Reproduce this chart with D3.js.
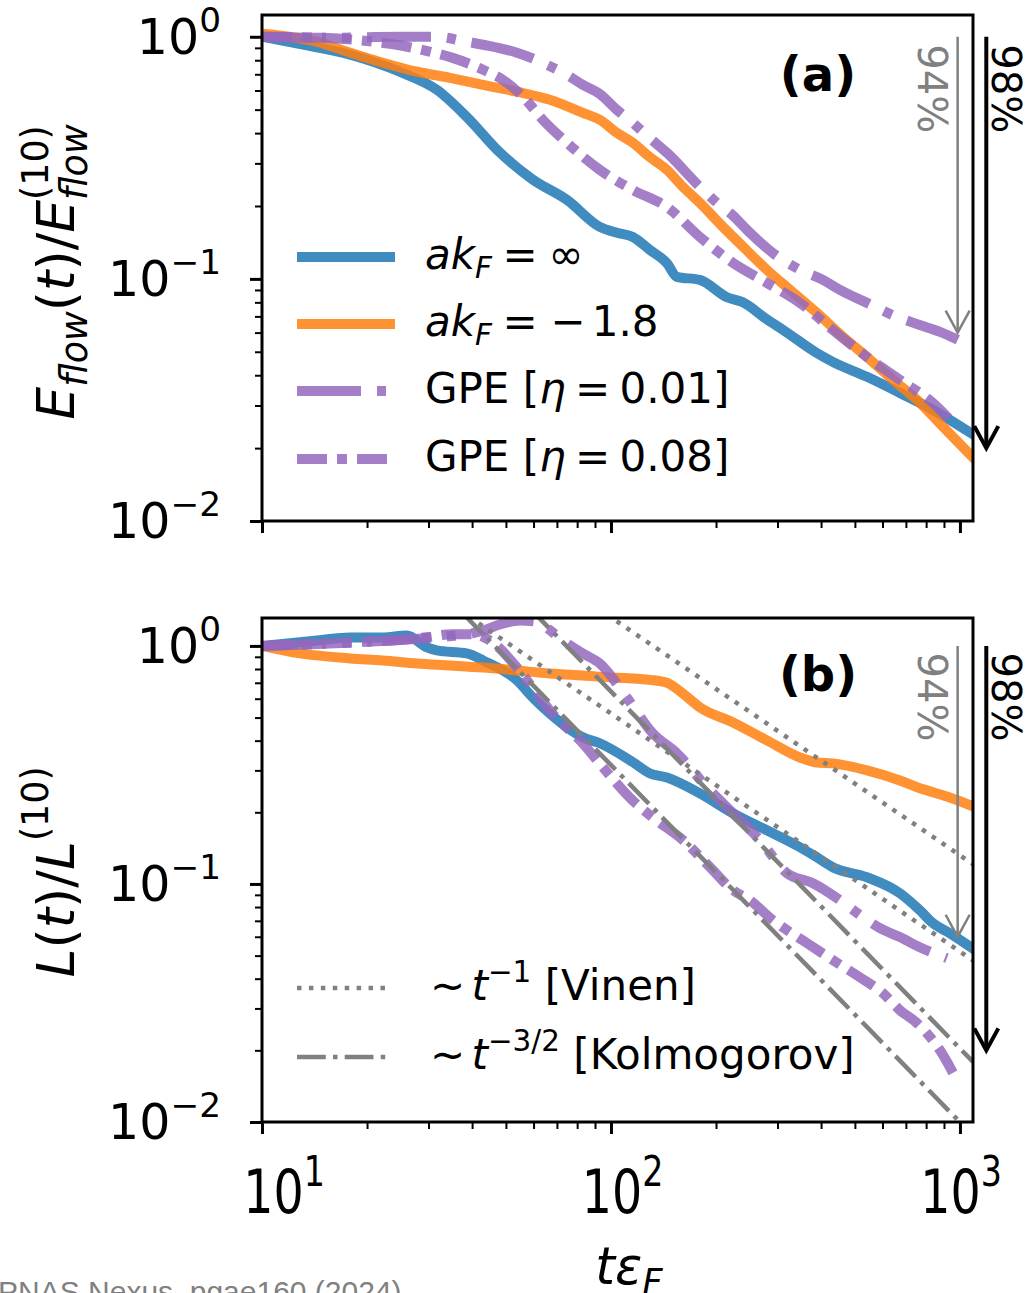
<!DOCTYPE html>
<html>
<head>
<meta charset="utf-8">
<script src="https://cdn.jsdelivr.net/npm/d3@7"></script>
<style>
  body { margin: 0; background: #fff; }
  svg text { font-family: "DejaVu Sans"; white-space: pre; }
</style>
</head>
<body>
<svg id="fig" width="1027" height="1293"></svg>
<script>
// ---------------- data ----------------
// (a) flow energy, normalised at t*eps_F = 10
const tBlueA = [10, 13, 17.9, 24.8, 31.7, 38.6, 48.1, 59.7, 74.8, 92.9, 104, 115.5, 129, 144.7, 154.5, 179.8, 214.9, 238.8, 279.8, 311, 389, 432, 541.5, 673, 837, 1090];
const eBlueA = [1.0, 0.93, 0.843, 0.717, 0.604, 0.467, 0.332, 0.257, 0.212, 0.164, 0.155, 0.149, 0.132, 0.116, 0.102, 0.099, 0.084, 0.080, 0.068, 0.0616, 0.0494, 0.0454, 0.0394, 0.0338, 0.0288, 0.0228];

const tOrangeA = [10, 14.4, 17.9, 22.2, 27.8, 34.6, 43, 53.8, 66.8, 83.1, 92.9, 104, 115.5, 129, 144.7, 160.7, 179.8, 209.4, 238.8, 279.8, 325.9, 389, 462.8, 541.5, 642.3, 753.8, 894, 1090];
const eOrangeA = [1.03, 0.953, 0.859, 0.781, 0.717, 0.677, 0.633, 0.593, 0.549, 0.485, 0.454, 0.401, 0.365, 0.319, 0.282, 0.240, 0.206, 0.164, 0.136, 0.109, 0.0901, 0.0724, 0.0576, 0.0476, 0.0383, 0.0316, 0.0245, 0.0183];

const tGpe1A = [10, 15.4, 24.8, 31.7, 37.4, 43, 53.8, 65.6, 74.8, 83.1, 92.9, 104, 115.5, 129, 144.7, 179.8, 201.4, 222.4, 245.7, 291, 348, 405, 453, 541.5, 659, 767, 877, 986];
const eGpe1A = [1.0, 0.99, 1.0, 1.0, 0.963, 0.927, 0.859, 0.766, 0.696, 0.633, 0.58, 0.499, 0.441, 0.382, 0.332, 0.240, 0.206, 0.184, 0.159, 0.128, 0.109, 0.099, 0.0901, 0.0796, 0.0697, 0.0645, 0.0604, 0.056];

const tGpe8A = [10, 15, 20, 25, 30, 35, 43, 49, 56, 63.8, 74.8, 92.9, 115.5, 144.7, 179.8, 223.7, 279.8, 348, 432, 541.5, 673, 837, 955];
const eGpe8A = [1.0, 0.99, 0.96, 0.92, 0.87, 0.82, 0.731, 0.664, 0.565, 0.454, 0.365, 0.282, 0.233, 0.198, 0.149, 0.1164, 0.0963, 0.0796, 0.0616, 0.0476, 0.0383, 0.0307, 0.0254];

// (b) vortex line length, normalised at t*eps_F = 10
const tBlueB = [10, 14.4, 17.9, 22.2, 26, 29.7, 31.7, 38.6, 43, 53.8, 59.7, 66.8, 83.1, 92.9, 115.5, 129, 144.7, 179.8, 223.9, 279.8, 348, 389, 432, 541.5, 673, 767, 837, 935, 1090];
const lBlueB = [1.0, 1.054, 1.084, 1.084, 1.106, 0.985, 0.957, 0.93, 0.869, 0.716, 0.607, 0.52, 0.413, 0.39, 0.325, 0.292, 0.28, 0.240, 0.198, 0.168, 0.1426, 0.1294, 0.1175, 0.1067, 0.0914, 0.0776, 0.0684, 0.0621, 0.0535];

const tOrangeB = [10, 12.85, 17.9, 22.2, 27.8, 34.6, 43, 53.8, 66.8, 83.1, 104, 115.5, 129, 144.7, 160.7, 179.8, 223.9, 279.8, 348, 389, 432, 541.5, 673, 753.8, 837, 935, 1090];
const lOrangeB = [1.0, 0.93, 0.886, 0.869, 0.844, 0.828, 0.811, 0.788, 0.766, 0.751, 0.735, 0.73, 0.72, 0.70, 0.631, 0.552, 0.477, 0.401, 0.340, 0.324, 0.321, 0.300, 0.272, 0.255, 0.243, 0.231, 0.212];

const tGpe1B = [10, 15, 20, 25, 30, 35, 40, 43, 48, 54.8, 60, 63.8, 72.8, 83.1, 92.9, 111, 131.8, 154.5, 188.3, 223.9, 267.3, 319.4, 379.3, 453, 527.3, 590, 673, 767, 918];
const lGpe1B = [1.0, 1.02, 1.04, 1.06, 1.08, 1.1, 1.13, 1.16, 1.23, 1.28, 1.27, 1.22, 1.054, 0.929, 0.844, 0.607, 0.429, 0.354, 0.255, 0.198, 0.153, 0.111, 0.1007, 0.0855, 0.0725, 0.0652, 0.0598, 0.0542, 0.0488];

const tGpe8B = [10, 15, 20, 25, 30, 35, 40, 45, 53.8, 61.4, 66.8, 83.1, 94.8, 115.5, 131.8, 160.7, 192.3, 223.9, 250, 291, 319.4, 364.6, 432, 516, 601, 673, 753.8, 804, 877, 955];
const lGpe8B = [1.0, 1.02, 1.04, 1.06, 1.09, 1.12, 1.12, 1.054, 0.811, 0.63, 0.536, 0.389, 0.309, 0.224, 0.19, 0.153, 0.1175, 0.094, 0.0855, 0.0705, 0.064, 0.0564, 0.0479, 0.0406, 0.0348, 0.0295, 0.026, 0.0236, 0.02, 0.0161];

// power-law guides in (b): L = A * t^p
const vinenAmps = [132, 52];      // p = -1
const kolmoAmps = [644, 316];     // p = -3/2

// decay markers (fraction left at the end)
const decayLevels = [0.06, 0.02];
const decayLabels = ["94%", "98%"];

// axis ticks
const xMajor = [10, 100, 1000];
const xMinor = [20, 30, 40, 50, 60, 70, 80, 90, 200, 300, 400, 500, 600, 700, 800, 900];
const yMajor = [1, 0.1, 0.01];
const yMinor = [0.02, 0.03, 0.04, 0.05, 0.06, 0.07, 0.08, 0.09, 0.2, 0.3, 0.4, 0.5, 0.6, 0.7, 0.8, 0.9];
const xExp = ["1", "2", "3"];
const yExp = ["0", "\u22121", "\u22122"];

const legendA = [
  [{t: "ak", it: 1}, {t: "F", it: 1, s: 0.7, dy: 0.22}, {sp: 0.25}, {t: "="}, {sp: 0.25}, {t: "\u221E"}],
  [{t: "ak", it: 1}, {t: "F", it: 1, s: 0.7, dy: 0.22}, {sp: 0.25}, {t: "="}, {sp: 0.3}, {t: "\u2212"}, {sp: 0.15}, {t: "1.8"}],
  [{t: "GPE ["}, {t: "\u03B7", it: 1}, {sp: 0.22}, {t: "="}, {sp: 0.22}, {t: "0.01]"}],
  [{t: "GPE ["}, {t: "\u03B7", it: 1}, {sp: 0.22}, {t: "="}, {sp: 0.22}, {t: "0.08]"}]
];
const legendB = [
  [{t: "\u223C"}, {sp: 0.15}, {t: "t", it: 1}, {t: "\u22121", s: 0.7, dy: -0.42}, {t: " [Vinen]"}],
  [{t: "\u223C"}, {sp: 0.15}, {t: "t", it: 1}, {t: "\u22123/2", s: 0.7, dy: -0.42}, {t: " [Kolmogorov]"}]
];

// ---------------- styles ----------------
const C = {blue: "#1f77b4", orange: "#ff7f0e", purple: "#9467bd", gray: "#808080"};
const LW = 10;
const dashGpe1 = [64, 16, 9, 16];
const dashGpe8 = [30, 10, 10, 10];
const GW = 4.5;
const dashDot = [1 * GW, 1.65 * GW];
const dashKol = [6.4 * GW, 1.6 * GW, 1 * GW, 1.6 * GW];
const TICK_FS = 49;

// ---------------- layout ----------------
const svg = d3.select("#fig");
svg.append("rect").attr("width", 1027).attr("height", 1293).attr("fill", "#fff");

const L = 262, R = 973;
const x = d3.scaleLog().domain([10, 1090]).range([L, R]);
const yA = d3.scaleLog().domain([0.01, 1.23]).range([521, 15]);
const yB = d3.scaleLog().domain([0.01, 1.31]).range([1122, 618]);

// lays out a run of roman / italic / sub / superscript pieces as one label
function mathText(parent, pieces, o) {
  let tr = `translate(${o.x},${o.y})`;
  if (o.rotate) tr += ` rotate(${o.rotate})`;
  if (o.sx || o.sy) tr += ` scale(${o.sx || 1},${o.sy || 1})`;
  const outer = parent.append("g").attr("transform", tr);
  const inner = outer.append("g");
  let cx = 0, px = 0, pw = 0;
  pieces.forEach(p => {
    if (p.sp) { cx += p.sp * o.size; return; }
    const fs = o.size * (p.s || 1);
    const t = inner.append("text")
      .attr("y", (p.dy || 0) * o.size)
      .style("font-size", fs + "px")
      .style("font-style", p.it ? "italic" : "normal")
      .style("font-weight", o.weight || "normal")
      .attr("fill", o.fill || "#000")
      .text(p.t);
    const w = t.node().getComputedTextLength();
    if (p.stack) { t.attr("x", px); cx = px + Math.max(pw, w); }
    else { t.attr("x", cx); px = cx; pw = w; cx += w; }
  });
  inner.attr("transform", `translate(${-cx * (o.anchor || 0)},0)`);
  return outer;
}

function zip(ts, vs) { return ts.map((t, i) => [t, vs[i]]); }

function panel(y, id) {
  const g = svg.append("g");
  const top = y.range()[1], bot = y.range()[0];
  svg.append("clipPath").attr("id", id).append("rect")
    .attr("x", L).attr("y", top).attr("width", R - L).attr("height", bot - top);
  const plot = g.append("g").attr("clip-path", `url(#${id})`);

  const mk = (axis, vals, size, w, tr) => {
    const a = g.append("g").attr("transform", tr)
      .call(axis.tickValues(vals).tickSize(size).tickFormat(""));
    a.select(".domain").remove();
    a.selectAll("line").attr("stroke", "#000").attr("stroke-width", w);
  };
  mk(d3.axisLeft(y), yMajor, 12, 3, `translate(${L},0)`);
  mk(d3.axisLeft(y), yMinor, 7, 2, `translate(${L},0)`);
  mk(d3.axisBottom(x), xMajor, 12, 3, `translate(0,${bot})`);
  mk(d3.axisBottom(x), xMinor, 7, 2, `translate(0,${bot})`);

  yMajor.forEach((v, i) => {
    mathText(g, [{t: "10"}, {t: yExp[i], s: 0.7, dy: -0.45}],
      {x: 221, y: y(v) + 17, size: TICK_FS, anchor: 1});
  });
  return {g, plot, top, bot};
}

function drawLine(plot, y, data, color, dash) {
  const line = d3.line().x(d => x(d[0])).y(d => y(d[1])).curve(d3.curveMonotoneX);
  plot.append("path").datum(data).attr("d", line)
    .attr("fill", "none").attr("stroke", color).attr("stroke-opacity", 0.85)
    .attr("stroke-width", LW)
    .attr("stroke-linecap", dash ? "butt" : "square")
    .attr("stroke-linejoin", "round")
    .attr("stroke-dasharray", dash ? dash.join(",") : null);
}

function arrows(g, y) {
  const xs = [x(985), x(1190)];
  const cols = [C.gray, "#000"];
  const ws = [2.5, 4];
  decayLevels.forEach((lev, i) => {
    const x0 = xs[i], y0 = y(1), y1 = y(lev);
    g.append("line").attr("x1", x0).attr("x2", x0).attr("y1", y0).attr("y2", y1 - 1)
      .attr("stroke", cols[i]).attr("stroke-width", ws[i]);
    g.append("path").attr("d", `M${x0 - 12},${y1 - 22}L${x0},${y1}L${x0 + 12},${y1 - 22}`)
      .attr("fill", "none").attr("stroke", cols[i]).attr("stroke-width", ws[i])
      .attr("stroke-linejoin", "miter");
    const tx = i === 0 ? x0 - 26 : x0 + 20;
    g.append("text").attr("transform", `translate(${tx},${y(0.61)}) rotate(90)`)
      .attr("text-anchor", "middle").attr("dominant-baseline", "central")
      .style("font-size", "40px").attr("fill", cols[i]).text(decayLabels[i]);
  });
}

function frame(g, top, bot) {
  g.append("rect").attr("x", L).attr("y", top).attr("width", R - L).attr("height", bot - top)
    .attr("fill", "none").attr("stroke", "#000").attr("stroke-width", 3);
}

// ---------------- panel (a) ----------------
const pa = panel(yA, "clipA");
drawLine(pa.plot, yA, zip(tBlueA, eBlueA), C.blue, null);
drawLine(pa.plot, yA, zip(tOrangeA, eOrangeA), C.orange, null);
drawLine(pa.plot, yA, zip(tGpe1A, eGpe1A), C.purple, dashGpe1);
drawLine(pa.plot, yA, zip(tGpe8A, eGpe8A), C.purple, dashGpe8);
frame(pa.g, pa.top, pa.bot);
arrows(pa.g, yA);
pa.g.append("text").attr("x", 818).attr("y", 91).attr("text-anchor", "middle")
  .style("font-size", "48px").style("font-weight", "bold").text("(a)");

// legend (a)
const legRowsA = [257, 324, 391, 459];
const legStyles = [[C.blue, null], [C.orange, null], [C.purple, dashGpe1], [C.purple, dashGpe8]];
legendA.forEach((pieces, i) => {
  const yy = legRowsA[i];
  pa.g.append("line").attr("x1", 297).attr("x2", 395).attr("y1", yy).attr("y2", yy)
    .attr("stroke", legStyles[i][0]).attr("stroke-opacity", 0.85).attr("stroke-width", LW)
    .attr("stroke-dasharray", legStyles[i][1] ? legStyles[i][1].join(",") : null);
  mathText(pa.g, pieces, {x: 425, y: yy + 12, size: 42});
});

// y label (a)
mathText(svg, [
  {t: "E", it: 1}, {t: "flow", it: 1, s: 0.7, dy: 0.25},
  {t: "("}, {t: "t", it: 1}, {t: ")/"},
  {t: "E", it: 1}, {t: "flow", it: 1, s: 0.7, dy: 0.25}, {t: "(10)", s: 0.7, dy: -0.5, stack: 1}
], {x: 74, y: 272, size: 52, anchor: 0.5, rotate: -90});

// ---------------- panel (b) ----------------
const pb = panel(yB, "clipB");
drawLine(pb.plot, yB, zip(tBlueB, lBlueB), C.blue, null);
drawLine(pb.plot, yB, zip(tOrangeB, lOrangeB), C.orange, null);
drawLine(pb.plot, yB, zip(tGpe1B, lGpe1B), C.purple, dashGpe1);
drawLine(pb.plot, yB, zip(tGpe8B, lGpe8B), C.purple, dashGpe8);

// power-law guides
const guide = (A, p, dash) => {
  const pts = x.domain().map(t => [t, A * Math.pow(t, p)]);
  pb.plot.append("path").datum(pts)
    .attr("d", d3.line().x(d => x(d[0])).y(d => yB(d[1])))
    .attr("fill", "none").attr("stroke", C.gray).attr("stroke-width", GW)
    .attr("stroke-dasharray", dash.join(","));
};
vinenAmps.forEach(A => guide(A, -1, dashDot));
kolmoAmps.forEach(A => guide(A, -1.5, dashKol));

frame(pb.g, pb.top, pb.bot);
arrows(pb.g, yB);
pb.g.append("text").attr("x", 818).attr("y", 691).attr("text-anchor", "middle")
  .style("font-size", "48px").style("font-weight", "bold").text("(b)");

// legend (b)
const legRowsB = [988, 1057];
const legDash = [dashDot, dashKol];
legendB.forEach((pieces, i) => {
  const yy = legRowsB[i];
  pb.g.append("line").attr("x1", 297).attr("x2", 390).attr("y1", yy).attr("y2", yy)
    .attr("stroke", C.gray).attr("stroke-width", GW).attr("stroke-dasharray", legDash[i].join(","));
  mathText(pb.g, pieces, {x: 430, y: yy + 12, size: 42});
});

// y label (b)
mathText(svg, [
  {t: "L", it: 1}, {t: "("}, {t: "t", it: 1}, {t: ")/"},
  {t: "L", it: 1}, {t: "(10)", s: 0.7, dy: -0.5}
], {x: 74, y: 872, size: 52, anchor: 0.5, rotate: -90});

// x tick labels and x label
const xl = svg.append("g").attr("transform", "translate(30,0) scale(0.97,1)");
xMajor.forEach((v, i) => {
  mathText(xl, [{t: "10"}, {t: xExp[i], s: 0.7, dy: -0.45}],
    {x: x(v), y: 1213, size: TICK_FS, anchor: 0.5, sy: 1.22});
});
mathText(xl, [{t: "t\u03B5", it: 1}, {t: "F", it: 1, s: 0.7, dy: 0.22}],
  {x: (L + R) / 2, y: 1284, size: 52, anchor: 0.5});

// source line
svg.append("text").attr("x", -2).attr("y", 1302)
  .style("font-family", "Liberation Sans").style("font-size", "30px")
  .attr("fill", "#808080").text("PNAS Nexus, pgae160 (2024)");
</script>
</body>
</html>
